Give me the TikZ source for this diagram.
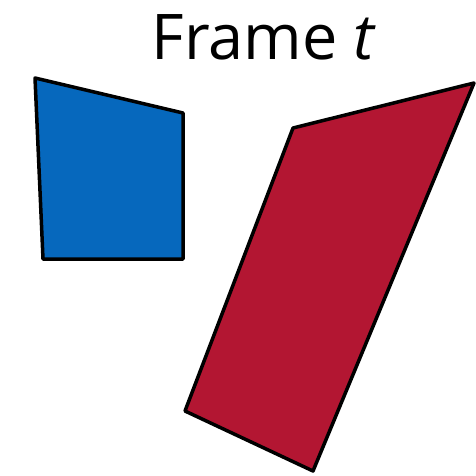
\documentclass[tikz,border=0pt]{standalone}
\usepackage{fontspec}
\setmainfont{Open Sans}
\definecolor{qblue}{RGB}{6,104,189}
\definecolor{qred}{RGB}{179,22,50}
\begin{document}
\begin{tikzpicture}[x=1pt,y=-1pt,
  quad/.style={draw=black,line width=3.5pt,line join=round}]
\useasboundingbox (0,0) rectangle (475,476);
\node[anchor=base,inner sep=0pt,font=\fontsize{63}{63}\selectfont] (title) at (264,60) {Frame \textit{t}};
\path[quad,fill=qblue] (35,78) -- (183,113) -- (183,259) -- (43,259) -- cycle;
\path[quad,fill=qred] (293,128) -- (474,83) -- (313,471) -- (185,411) -- cycle;
\end{tikzpicture}
\end{document}
